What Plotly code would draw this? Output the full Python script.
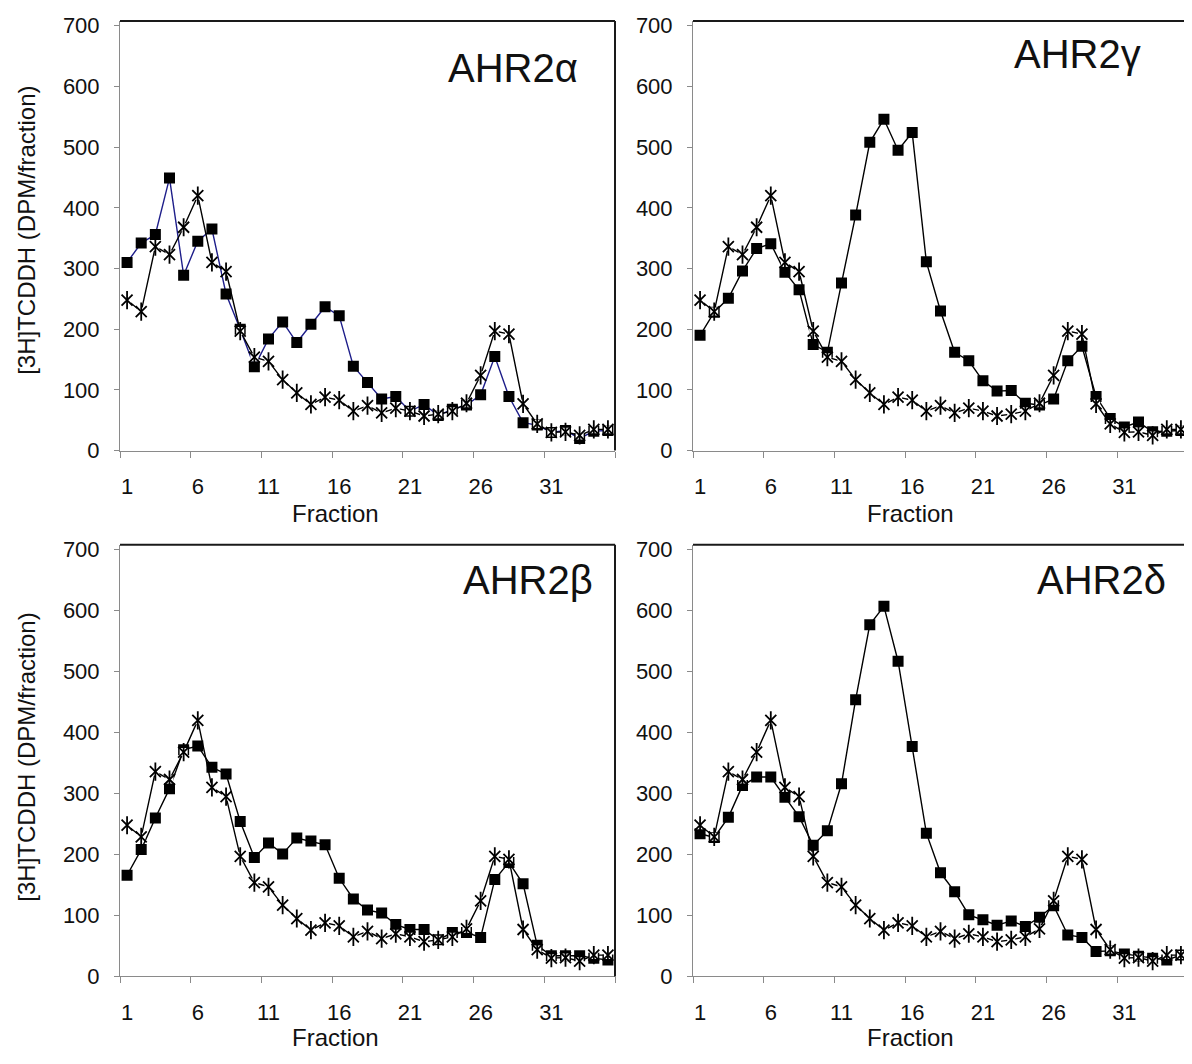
import plotly.graph_objects as go
from plotly.subplots import make_subplots

fractions = list(range(1, 36))

control = [248, 229, 336, 323, 368, 420, 310, 295, 197, 154,
           147, 117, 95, 76, 88, 83, 65, 74, 62, 70,
           65, 57, 60, 65, 78, 124, 197, 192, 77, 44,
           30, 31, 25, 35, 35]

ahr2_alpha = [310, 342, 356, 449, 289, 345, 365, 258, 200, 138,
              184, 212, 178, 208, 237, 222, 139, 112, 85, 89,
              65, 76, 58, 68, 75, 92, 155, 89, 46, 42,
              30, 33, 20, 32, 33]

ahr2_gamma = [190, 228, 251, 296, 333, 341, 294, 265, 175, 162,
              276, 388, 508, 546, 495, 524, 311, 230, 162, 148,
              115, 98, 99, 78, 75, 85, 148, 172, 89, 53,
              39, 47, 31, 32, 33]

ahr2_beta = [166, 208, 260, 308, 372, 378, 343, 332, 254, 195,
             219, 201, 227, 222, 216, 161, 127, 109, 104, 85,
             77, 77, 60, 72, 72, 64, 159, 187, 152, 51,
             34, 34, 34, 30, 27]

ahr2_delta = [234, 228, 261, 313, 327, 327, 294, 262, 215, 239,
              316, 454, 577, 607, 517, 377, 235, 170, 139, 101,
              93, 84, 91, 82, 97, 116, 68, 64, 41, 42,
              37, 33, 30, 27, 35]

panel_titles = ["AHR2α", "AHR2γ", "AHR2β", "AHR2δ"]
panel_series = [ahr2_alpha, ahr2_gamma, ahr2_beta, ahr2_delta]
panel_line_colors = ["#1e1e8a", "#000000", "#000000", "#000000"]

x_ticklabels = [1, 6, 11, 16, 21, 26, 31]
y_ticks = [0, 100, 200, 300, 400, 500, 600, 700]

# page has an 8px body margin; size the figure so that it fills the window
OFF = 8
W, H = 1192 - OFF, 1064 - OFF
FONT = "Liberation Sans, Arial, sans-serif"
GRAY = "#8a8a8a"

fig = make_subplots(rows=2, cols=2)

positions = [(1, 1), (1, 2), (2, 1), (2, 2)]
for (r, c), series, lc in zip(positions, panel_series, panel_line_colors):
    fig.add_trace(go.Scatter(x=fractions, y=series, mode="lines+markers",
                             line=dict(color=lc, width=1.4),
                             marker=dict(symbol="square", size=11, color="black"),
                             showlegend=False, hoverinfo="skip"), row=r, col=c)
    fig.add_trace(go.Scatter(x=fractions, y=control, mode="lines",
                             line=dict(color="black", width=1.4),
                             showlegend=False, hoverinfo="skip"), row=r, col=c)
    fig.add_trace(go.Scatter(x=fractions, y=control, mode="markers",
                             marker=dict(symbol="square", size=8, color="white",
                                         line=dict(width=0)),
                             showlegend=False, hoverinfo="skip"), row=r, col=c)
    fig.add_trace(go.Scatter(x=fractions, y=control, mode="markers",
                             marker=dict(symbol="x-thin-open", size=11, color="black",
                                         line=dict(color="black", width=1.8)),
                             showlegend=False, hoverinfo="skip"), row=r, col=c)
    fig.add_trace(go.Scatter(x=fractions, y=control, mode="markers",
                             marker=dict(symbol="line-ns-open", size=13, color="black",
                                         line=dict(color="black", width=1.8)),
                             showlegend=False, hoverinfo="skip"), row=r, col=c)

def px_x(p):
    return (p - OFF) / W

def px_y(p):
    return 1 - (p - OFF) / H

x_domains = [[px_x(120), px_x(615)], [px_x(693), px_x(1188)]]
y_domains = [[px_y(452), px_y(14)], [px_y(988), px_y(548)]]

for i, (r, c) in enumerate(positions):
    xa = "xaxis" if i == 0 else f"xaxis{i+1}"
    ya = "yaxis" if i == 0 else f"yaxis{i+1}"
    fig.layout[xa].update(
        domain=x_domains[c - 1], range=[0.5, 35.5],
        showgrid=False, zeroline=False, showline=True, linecolor=GRAY, linewidth=1,
        tickmode="array", tickvals=x_ticklabels, ticktext=[str(v) for v in x_ticklabels],
        ticks="", ticklabelstandoff=16,
        tickfont=dict(family=FONT, size=22, color="#111"),
        minor=dict(tickmode="array", tickvals=[0.5 + 5 * k for k in range(8)],
                   ticks="outside", ticklen=6, tickcolor=GRAY, tickwidth=1, showgrid=False),
    )
    fig.layout[ya].update(
        domain=y_domains[r - 1], range=[0, 708],
        showgrid=False, zeroline=False, showline=True, linecolor=GRAY, linewidth=1,
        tickmode="array", tickvals=y_ticks, ticks="outside", ticklen=5,
        tickcolor=GRAY, tickwidth=1, ticklabelstandoff=10,
        tickfont=dict(family=FONT, size=22, color="#111"),
    )
    xref = "x" if i == 0 else f"x{i+1}"
    yref = "y" if i == 0 else f"y{i+1}"
    fig.add_shape(type="line", xref=f"{xref} domain", yref=f"{yref} domain",
                  x0=0, x1=1, y0=1, y1=1, line=dict(color="#1a1a1a", width=2))
    fig.add_shape(type="line", xref=f"{xref} domain", yref=f"{yref} domain",
                  x0=1, x1=1, y0=0, y1=1, line=dict(color="#1a1a1a", width=2))

annotations = []
# panel titles
title_pos = [(580, 62), (1143, 48), (595, 584), (1168, 584)]
for t, (tx, ty) in zip(panel_titles, title_pos):
    annotations.append(dict(text=t, x=px_x(tx), y=px_y(ty), xref="paper", yref="paper",
                            xanchor="right", yanchor="middle", showarrow=False,
                            font=dict(family=FONT, size=40, color="#111")))
# x-axis titles
for fx, fy in [(335, 516), (910, 516), (335, 1050), (910, 1050)]:
    annotations.append(dict(text="Fraction", x=px_x(fx), y=px_y(fy), xref="paper", yref="paper",
                            xanchor="center", yanchor="middle", showarrow=False,
                            font=dict(family=FONT, size=24, color="#111")))
# y-axis titles
for fx, fy in [(27, 228), (27, 765)]:
    annotations.append(dict(text="[3H]TCDDH (DPM/fraction)", x=px_x(fx), y=px_y(fy),
                            xref="paper", yref="paper", textangle=-90,
                            xanchor="center", yanchor="middle", showarrow=False,
                            font=dict(family=FONT, size=24, color="#111")))

fig.update_layout(
    width=W, height=H, margin=dict(l=0, r=0, t=0, b=0),
    paper_bgcolor="white", plot_bgcolor="white",
    annotations=annotations, showlegend=False,
    font=dict(family=FONT),
)

fig.write_html("out.html")
